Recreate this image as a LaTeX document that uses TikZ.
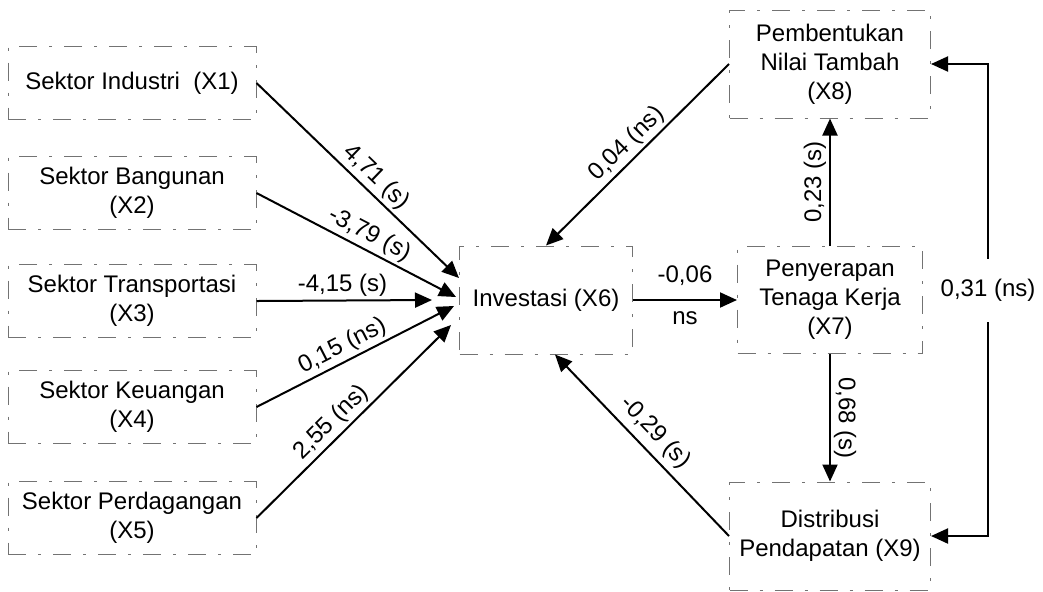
\documentclass[tikz,border=0pt]{standalone}
\usepackage{fontspec}
\setmainfont{Liberation Sans}
\usetikzlibrary{arrows.meta}
\begin{document}
\begin{tikzpicture}[x=0.5pt,y=-0.5pt,
  box/.style={draw=black!55, line width=0.5pt,
    dash pattern=on 9pt off 6pt on 1.5pt off 6pt,
    align=center, font=\fontsize{12}{14.5}\selectfont, inner sep=0pt},
  leftbox/.style={box, minimum width=124pt, minimum height=36.5pt},
  tip/.tip={Triangle[length=8.5pt,width=7.5pt]},
  link/.style={line width=1pt, -tip},
  lab/.style={font=\fontsize{12}{14}\selectfont, inner sep=1.5pt},
]
\useasboundingbox (0,0) rectangle (1043,591);

% sector boxes on the left
\node[leftbox] (x1) at (132,83)  {Sektor Industri~ (X1)};
\node[leftbox] (x2) at (132,193) {Sektor Bangunan\\(X2)};
\node[leftbox] (x3) at (132,301) {Sektor Transportasi\\(X3)};
\node[leftbox] (x4) at (132,407) {Sektor Keuangan\\(X4)};
\node[leftbox] (x5) at (132,518) {Sektor Perdagangan\\(X5)};

% central and right boxes
\node[box, minimum width=86.5pt, minimum height=54pt]   (x6) at (546,300) {Investasi (X6)};
\node[box, minimum width=92.5pt, minimum height=53.5pt] (x7) at (830,300) {Penyerapan\\Tenaga Kerja\\(X7)};
\node[box, minimum width=100.5pt, minimum height=54pt]  (x8) at (830,64)  {Pembentukan\\Nilai Tambah\\(X8)};
\node[box, minimum width=100.5pt, minimum height=54pt]  (x9) at (830,536) {Distribusi\\Pendapatan (X9)};

% paths into Investasi
\draw[link] (x1.east) -- node[lab, sloped, above, pos=0.54] {4,71 (s)} ([yshift=11pt]x6.west);
\draw[link] (x2.east) -- node[lab, sloped, above, pos=0.53] {-3,79 (s)} ([xshift=-1.5pt,yshift=1.5pt]x6.west);
\draw[link] (x3.east) -- node[lab, sloped, above, pos=0.49] {-4,15 (s)} ([xshift=-13.5pt]x6.west);
\draw[link] (x4.east) -- node[lab, sloped, above, pos=0.47] {0,15 (ns)} ([xshift=-2.5pt,yshift=-3pt]x6.west);
\draw[link] (x5.east) -- node[lab, sloped, above, pos=0.44] {2,55 (ns)} ([xshift=-4pt,yshift=-12.5pt]x6.west);

\draw[link] (x8.west) -- node[lab, sloped, above] {0,04 (ns)} (x6.north);
\draw[link] (x9.west) -- node[lab, sloped, above, inner sep=3pt] {-0,29 (s)} ([xshift=4.5pt]x6.south);

% chain on the right
\draw[link] (x6.east) -- node[lab, above=5pt] {-0,06} node[lab, below=4pt] {ns} (x7.west);
\draw[link] (x7.north) -- node[lab, sloped, above] {0,23 (s)} (x8.south);
\draw[link] (x7.south) -- node[lab, sloped, above] {0,68 (s)} (x9.north);

% two-way link between X9 and X8
\coordinate (loop) at (988,300);
\draw[line width=1pt, tip-tip] (x9.east) -- (x9.east -| loop)
  -- node[lab, fill=white, inner xsep=2pt, inner ysep=10pt, pos=0.52] {0,31 (ns)} (x8.east -| loop)
  -- (x8.east);
\end{tikzpicture}
\end{document}
